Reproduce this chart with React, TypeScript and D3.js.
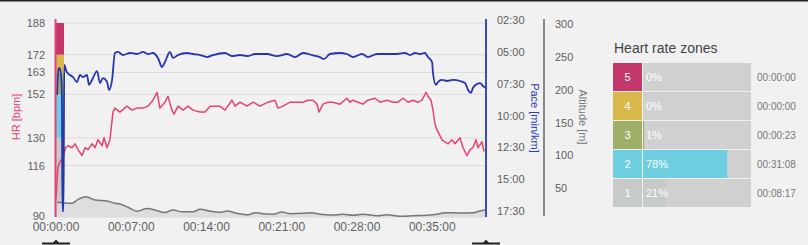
import React from 'react';
import * as d3 from 'd3';

const hrTicks = [90, 116, 130, 152, 163, 172, 188];
const paceTicks = [2.5, 5, 7.5, 10, 12.5, 15, 17.5];
const paceTickLabels = ['02:30', '05:00', '07:30', '10:00', '12:30', '15:00', '17:30'];
const altTicks = [50, 100, 150, 200, 250, 300];
const timeTicks = [0, 420, 840, 1260, 1680, 2100];
const timeTickLabels = ['00:00:00', '00:07:00', '00:14:00', '00:21:00', '00:28:00', '00:35:00'];

const zoneBounds = [90, 130, 152, 163, 172, 188];
const zoneBandColors = ['#c6cac8', '#6dcfe0', '#9faf69', '#d9b84e', '#c2386a'];

const zoneLabels = ['5', '4', '3', '2', '1'];
const zoneColors = ['#c2386a', '#d9b84e', '#9faf69', '#6dcfe0', '#c6cac8'];
const zonePercents = [0, 0, 1, 78, 21];
const zoneTimes = ['00:00:00', '00:00:00', '00:00:23', '00:31:08', '00:08:17'];

const hrTime = [0, 6, 11, 18, 30, 39, 53, 67, 89, 106, 123, 145, 162, 179, 201, 218, 234, 257, 268, 285, 301, 318, 329, 357, 396, 424, 452, 486, 513, 541, 564, 580, 608, 625, 647, 659, 681, 709, 737, 765, 804, 832, 860, 915, 943, 982, 999, 1027, 1066, 1100, 1139, 1183, 1222, 1239, 1267, 1306, 1334, 1379, 1407, 1434, 1457, 1468, 1490, 1518, 1546, 1585, 1624, 1641, 1658, 1686, 1713, 1741, 1780, 1808, 1847, 1881, 1909, 1937, 1965, 1993, 2021, 2043, 2065, 2076, 2093, 2104, 2115, 2127, 2138, 2154, 2171, 2188, 2210, 2227, 2255, 2272, 2294, 2311, 2327, 2344, 2355, 2378, 2389];
const hrValues = [99, 109, 115, 117, 119, 120, 125, 126, 125, 127, 124, 121, 125, 124, 127, 125, 129, 126, 130, 125, 129, 143, 145, 143, 146, 144, 145, 145, 146, 149, 153, 145, 148, 151, 144, 142, 146, 144, 146, 144, 143, 143, 146, 146, 144, 149, 146, 148, 146, 148, 146, 148, 149, 145, 146, 148, 148, 148, 149, 149, 147, 143, 147, 148, 148, 147, 150, 148, 149, 148, 147, 149, 150, 148, 149, 148, 148, 150, 148, 149, 148, 149, 153, 151, 149, 144, 137, 134, 132, 129, 128, 127, 129, 127, 130, 125, 121, 124, 125, 129, 125, 128, 123];

const paceTime = [6, 14, 20, 28, 33, 36, 42, 46, 60, 78, 95, 117, 134, 151, 173, 184, 201, 229, 246, 262, 285, 296, 313, 329, 346, 374, 413, 452, 486, 513, 541, 569, 592, 608, 636, 653, 681, 731, 765, 804, 843, 876, 943, 982, 1027, 1072, 1111, 1178, 1233, 1289, 1334, 1379, 1429, 1473, 1496, 1529, 1585, 1624, 1658, 1708, 1741, 1792, 1853, 1903, 1948, 1976, 2004, 2032, 2060, 2076, 2099, 2104, 2121, 2132, 2154, 2182, 2216, 2255, 2283, 2300, 2316, 2327, 2350, 2367, 2383, 2400];
const paceValues = [8.39, 6.35, 6.27, 6.82, 8.39, 17.5, 17.5, 6.03, 6.58, 6.82, 6.98, 7.37, 6.82, 6.98, 6.82, 7.6, 7.21, 6.51, 7.45, 7.06, 7.37, 8.0, 7.21, 5.09, 5.01, 5.25, 5.09, 5.17, 5.01, 5.17, 5.09, 5.48, 6.19, 5.8, 5.01, 5.48, 5.25, 5.09, 5.17, 5.25, 5.41, 5.25, 5.09, 5.33, 5.25, 5.33, 5.17, 5.17, 5.33, 5.17, 5.41, 5.09, 5.25, 5.41, 5.56, 5.17, 5.09, 5.17, 5.41, 5.17, 5.41, 5.17, 5.17, 5.17, 5.09, 5.25, 5.09, 5.17, 5.09, 5.41, 5.8, 6.66, 7.6, 7.37, 7.21, 7.29, 7.21, 7.29, 7.45, 8.0, 8.23, 7.84, 7.53, 7.45, 7.68, 7.84];

const altTime = [6, 89, 123, 167, 218, 285, 329, 357, 402, 452, 508, 564, 608, 653, 703, 765, 804, 860, 915, 954, 1010, 1072, 1111, 1178, 1211, 1261, 1306, 1379, 1429, 1473, 1546, 1602, 1658, 1713, 1792, 1847, 1920, 1993, 2071, 2127, 2171, 2255, 2327, 2366, 2394];
const altValues = [28.5, 27, 33, 37, 32, 30.5, 27, 26, 21, 15, 19, 15.7, 13, 16.8, 14, 14, 18, 14.8, 13.2, 15.2, 11.7, 9.6, 12.6, 10.7, 10.2, 13.7, 11.1, 11.7, 12.6, 10.2, 9.1, 10.2, 8.7, 10.2, 8, 9.6, 7.2, 8, 8.7, 10.2, 12.6, 12.2, 12.6, 15.2, 16.8];

const W = 808;
const H = 245;
const PL = 56;
const PR = 486;
const PT = 23;
const PB = 217;
const FONT = "'Liberation Sans', Arial, sans-serif";

export default function App() {
  const x = d3.scaleLinear().domain([0, 2400]).range([PL, PR]);
  const yHr = d3.scaleLinear().domain([90, 188]).range([PB, PT]);
  const yPace = d3.scaleLinear().domain([2.5, 17.5]).range([20, 211]);
  const yAlt = d3.scaleLinear().domain([0, 300]).range([221, 24]);

  const hrData = hrTime.map((t, i) => [t, hrValues[i]] as [number, number]);
  const paceData = paceTime.map((t, i) => [t, paceValues[i]] as [number, number]);
  const altData = altTime.map((t, i) => [t, altValues[i]] as [number, number]);

  const hrLine = d3.line<[number, number]>().x(d => x(d[0])).y(d => yHr(d[1]))(hrData) || '';
  const paceLine = d3.line<[number, number]>().x(d => x(d[0])).y(d => yPace(d[1])).curve(d3.curveMonotoneX)(paceData) || '';
  const altArea = d3.area<[number, number]>().x(d => x(d[0])).y0(PB).y1(d => yAlt(d[1])).curve(d3.curveMonotoneX)(altData) || '';
  const altLine = d3.line<[number, number]>().x(d => x(d[0])).y(d => yAlt(d[1])).curve(d3.curveMonotoneX)(altData) || '';

  const zx = 613;
  const zy = 63;
  const rowH = 28;
  const rowPitch = 29;
  const cellW = 29;
  const barX = 643;
  const barW = 108;
  const pct = d3.scaleLinear().domain([0, 100]).range([0, barW]);

  const handles = [PL, PR];

  return (
    <div style={{ position: 'absolute', left: 0, top: 0 }}>
      <svg width={W} height={H} style={{ display: 'block', fontFamily: FONT }}>
        <defs>
          <clipPath id="plotClip">
            <rect x={PL} y={18} width={PR - PL} height={PB - 18} />
          </clipPath>
        </defs>
        <rect x={0} y={0} width={W} height={H} fill="#f1f1f1" />
        <rect x={0} y={0} width={W} height={1.5} fill="#222" />

        {hrTicks.map(t => (
          <line key={'g' + t} x1={PL} x2={PR} y1={yHr(t)} y2={yHr(t)} stroke="#dcdcdc" strokeWidth={1} />
        ))}

        {zoneBandColors.map((c, i) => (
          <rect key={'zb' + i} x={PL} width={8} y={yHr(zoneBounds[i + 1])} height={yHr(zoneBounds[i]) - yHr(zoneBounds[i + 1])} fill={c} />
        ))}

        <g clipPath="url(#plotClip)">
          <path d={altArea} fill="#dcdcdc" opacity={0.9} />
          <path d={altLine} fill="none" stroke="#777" strokeWidth={1.5} />
          <path d={hrLine} fill="none" stroke="#e8436e" strokeWidth={1.5} strokeLinejoin="round" />
          <path d={paceLine} fill="none" stroke="#2436aa" strokeWidth={1.8} strokeLinejoin="round" />
        </g>

        <line x1={PL - 0.5} x2={PL - 0.5} y1={19} y2={PB} stroke="#e0457b" strokeWidth={2} />
        <line x1={PR} x2={PR} y1={19} y2={PB} stroke="#3a4fb3" strokeWidth={2} />
        <line x1={544} x2={544} y1={19} y2={216} stroke="#888" strokeWidth={2} />

        {hrTicks.map(t => (
          <text key={'hl' + t} x={45} y={yHr(t) + (t === 90 ? 2.5 : 4)} textAnchor="end" fontSize={11} fill="#606060">{t}</text>
        ))}
        <text transform="translate(20,117) rotate(-90)" textAnchor="middle" fontSize={11} fill="#e0457b">HR [bpm]</text>

        {paceTicks.map((t, i) => (
          <text key={'pl' + t} x={497} y={yPace(t) + 4} fontSize={11} fill="#606060">{paceTickLabels[i]}</text>
        ))}
        <text transform="translate(531,118) rotate(90)" textAnchor="middle" fontSize={11} fill="#2a3eb1">Pace [min/km]</text>

        {altTicks.map(t => (
          <text key={'al' + t} x={555} y={yAlt(t) + 4} fontSize={11} fill="#606060">{t}</text>
        ))}
        <text transform="translate(579,117) rotate(90)" textAnchor="middle" fontSize={11} fill="#777">Altitude [m]</text>

        {timeTicks.map((t, i) => (
          <text key={'tl' + t} x={x(t)} y={230.5} textAnchor="middle" fontSize={12} fill="#606060">{timeTickLabels[i]}</text>
        ))}

        {handles.map((hx, i) => (
          <g key={'h' + i}>
            <rect x={hx - 14} y={242.5} width={28} height={2} fill="#222" />
            <path d={`M${hx - 3},243 L${hx},239.5 L${hx + 3},243 Z`} fill="#222" />
          </g>
        ))}

        <text x={614} y={53} fontSize={14} fill="#444">Heart rate zones</text>
        {zoneLabels.map((z, i) => {
          const ry = zy + i * rowPitch;
          return (
            <g key={'z' + z}>
              <rect x={zx} y={ry} width={cellW} height={rowH} fill={zoneColors[i]} />
              <rect x={barX} y={ry} width={barW} height={rowH} fill="#d0d0d0" />
              <rect x={barX} y={ry} width={pct(zonePercents[i])} height={rowH} fill={zoneColors[i]} />
              <text x={zx + cellW / 2} y={ry + rowH / 2 + 4} textAnchor="middle" fontSize={11} fill="#fff">{z}</text>
              <text x={barX + 3} y={ry + rowH / 2 + 4} fontSize={11} fill="#fff">{zonePercents[i] + '%'}</text>
              <text x={757} y={ry + rowH / 2 + 4} fontSize={10} fill="#777">{zoneTimes[i]}</text>
            </g>
          );
        })}
      </svg>
    </div>
  );
}
